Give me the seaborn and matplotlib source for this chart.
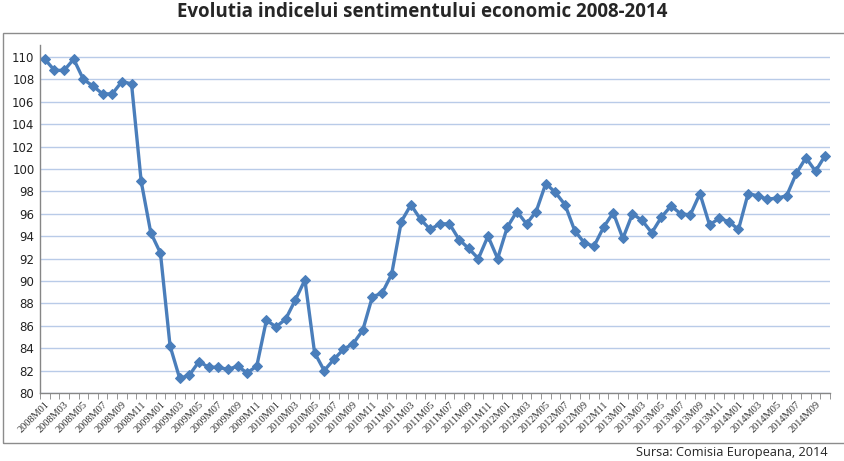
from matplotlib import pyplot as plt
from matplotlib.patches import Rectangle
import seaborn as sns
import pandas as pd
import numpy as np

# monthly index 2008M01 .. 2014M10
years = list(range(2008, 2015))
months = [f'{y}M{m:02d}' for y in years for m in range(1, 13)][:82]
esi = [109.8, 108.8, 108.8, 109.8, 108.0, 107.4, 106.7, 106.7, 107.8, 107.6, 98.9, 94.3,
       92.5, 84.2, 81.3, 81.6, 82.8, 82.3, 82.3, 82.1, 82.4, 81.8, 82.4, 86.5,
       85.9, 86.6, 88.3, 90.1, 83.6, 82.0, 83.0, 83.9, 84.4, 85.6, 88.6, 88.9,
       90.6, 95.3, 96.8, 95.5, 94.6, 95.1, 95.1, 93.7, 92.9, 92.0, 94.0, 92.0,
       94.8, 96.2, 95.1, 96.2, 98.7, 97.9, 96.8, 94.5, 93.4, 93.1, 94.8, 96.1,
       93.8, 96.0, 95.4, 94.3, 95.7, 96.7, 96.0, 95.9, 97.8, 95.0, 95.6, 95.3,
       94.6, 97.8, 97.6, 97.3, 97.4, 97.6, 99.6, 101.0, 99.8, 101.2]

df = pd.DataFrame({'luna': months, 'esi': esi})
df['pos'] = np.arange(len(df))

sns.set_style('white')
fig = plt.figure(figsize=(8.44, 4.61), dpi=100)
ax = fig.add_axes([0.0474, 0.1475, 0.936, 0.755])

sns.lineplot(data=df, x='pos', y='esi', ax=ax, color='#4a7ebb', lw=2.4,
             marker='D', markersize=5.5, markeredgecolor='#4a7ebb')

ax.set_xlim(-0.5, len(df) - 0.5)
ax.set_ylim(80, 111.07)
ax.set_yticks(np.arange(80, 111, 2))
ax.set_yticklabels([str(v) for v in range(80, 111, 2)], fontsize=8.5, color='#222222')
ax.yaxis.grid(True, color='#b9cbe8', lw=1)
ax.set_axisbelow(True)

ax.set_xticks(df['pos'][::2])
ax.set_xticklabels(df['luna'][::2], rotation=45, ha='right', va='top', rotation_mode='anchor',
                   fontsize=7.5, family='Liberation Serif', color='#333333')
ax.set_xticks(np.arange(-0.5, len(df), 1), minor=True)
ax.tick_params(axis='x', which='major', length=0, pad=5)
ax.tick_params(axis='x', which='minor', length=4, color='#868686', direction='out', bottom=True)
ax.tick_params(axis='y', length=0, pad=4)
ax.set_xlabel('')
ax.set_ylabel('')

for s in ['top', 'right']:
    ax.spines[s].set_visible(False)
for s in ['left', 'bottom']:
    ax.spines[s].set_color('#868686')
    ax.spines[s].set_linewidth(1)

# outer chart frame
fig.patches.append(Rectangle((3 / 844, (461 - 443) / 461), 0.999, (443 - 33) / 461,
                             transform=fig.transFigure, fill=False, edgecolor='#8c8c8c', lw=1))

fig.text(0.5, 0.995, 'Evolutia indicelui sentimentului economic 2008-2014', ha='center', va='top',
         fontsize=13.5, fontweight='bold', family='Open Sans')
fig.text(636 / 844, 2 / 461, 'Sursa: Comisia Europeana, 2014', ha='left', va='bottom',
         fontsize=9.2, family='Open Sans')

fig.savefig('out.png', dpi=100)
